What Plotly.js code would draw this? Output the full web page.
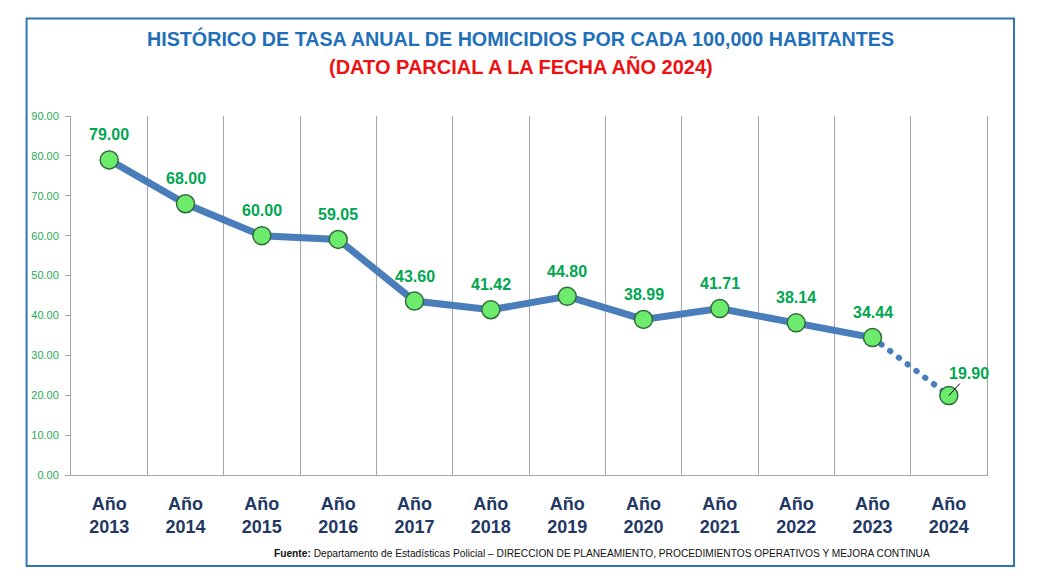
<!DOCTYPE html>
<html>
<head>
<meta charset="utf-8">
<script src="https://cdn.plot.ly/plotly-3.0.1.min.js"></script>
<style>html,body{margin:0;padding:0;background:#fff;}#chart{width:1038px;height:571px;}</style>
</head>
<body>
<div id="chart"></div>
<script>
const years = ["2013","2014","2015","2016","2017","2018","2019","2020","2021","2022","2023","2024"];
const values = [79.00, 68.00, 60.00, 59.05, 43.60, 41.42, 44.80, 38.99, 41.71, 38.14, 34.44, 19.90];
const valueLabels = ["79.00","68.00","60.00","59.05","43.60","41.42","44.80","38.99","41.71","38.14","34.44","19.90"];
const yTicks = [0,10,20,30,40,50,60,70,80,90];
const yTickLabels = ["0.00","10.00","20.00","30.00","40.00","50.00","60.00","70.00","80.00","90.00"];
const titleLine1 = "HISTÓRICO DE TASA ANUAL DE HOMICIDIOS POR CADA 100,000 HABITANTES";
const titleLine2 = "(DATO PARCIAL A LA FECHA AÑO 2024)";
const sourceText = "<b>Fuente:</b> Departamento de Estadísticas Policial – DIRECCION DE PLANEAMIENTO, PROCEDIMIENTOS OPERATIVOS Y MEJORA CONTINUA";

const cats = years.map(y => "Año<br>" + y);
const nFull = years.length - 1; // 2013..2023 are complete years

const lineColor = "#4A7EBB";
const green = "#00A651";

const traces = [
  { x: cats.slice(0, nFull), y: values.slice(0, nFull), type: "scatter", mode: "lines",
    line: { color: lineColor, width: 7 }, hoverinfo: "skip", showlegend: false },
  { x: cats.slice(nFull - 1), y: values.slice(nFull - 1), type: "scatter", mode: "lines",
    line: { color: lineColor, width: 6, dash: "0.5px,10.5px" }, hoverinfo: "skip", showlegend: false },
  { x: cats, y: values, type: "scatter", mode: "markers",
    marker: { size: 18, color: "#6CEB6C", line: { color: "#2F6B3C", width: 1.5 } },
    showlegend: false }
];

const font = "Liberation Sans, Arial, sans-serif";
const annotations = values.map((v, i) => {
  const last = i === values.length - 1;
  const a = { x: cats[i], y: v, xref: "x", yref: "y", text: "<b>" + valueLabels[i] + "</b>",
    font: { family: font, size: 16, color: green } };
  if (last) {
    Object.assign(a, { showarrow: true, arrowhead: 0, arrowwidth: 1, arrowcolor: "#000",
      ax: 20, ay: -22, standoff: 0, startstandoff: 0 });
  } else {
    Object.assign(a, { showarrow: false, yshift: 25 });
  }
  return a;
});

annotations.push(
  { xref: "paper", yref: "paper", x: 0.4907, y: 1.217, xanchor: "center", yanchor: "middle", showarrow: false,
    text: "<b>" + titleLine1 + "</b>", font: { family: font, size: 19.7, color: "#1F70B8" } },
  { xref: "paper", yref: "paper", x: 0.4917, y: 1.1365, xanchor: "center", yanchor: "middle", showarrow: false,
    text: "<b>" + titleLine2 + "</b>", font: { family: font, size: 20, color: "#EE1111" } },
  { xref: "paper", yref: "paper", x: 0.5797, y: -0.22, xanchor: "center", yanchor: "middle", showarrow: false,
    text: sourceText, font: { family: font, size: 10.2, color: "#111" } }
);

const layout = {
  width: 1038, height: 571,
  margin: { l: 71, r: 51, t: 116, b: 96 },
  paper_bgcolor: "#fff", plot_bgcolor: "#fff",
  font: { family: font },
  xaxis: {
    type: "category", range: [-0.5, 11.5], tickson: "boundaries",
    showgrid: true, gridcolor: "#A6A6A6", gridwidth: 1,
    showline: true, linecolor: "#A6A6A6", linewidth: 1,
    ticks: "", fixedrange: true,
    tickfont: { family: font, size: 18, color: "#1F3864", weight: "bold" },
    ticklabelstandoff: 12
  },
  yaxis: {
    range: [0, 90], tickvals: yTicks, ticktext: yTickLabels,
    showgrid: false, zeroline: false,
    showline: true, mirror: true, linecolor: "#A6A6A6", linewidth: 1,
    ticks: "outside", ticklen: 5, tickcolor: "#A6A6A6",
    tickfont: { family: font, size: 11, color: "#1FAA55" }, fixedrange: true,
    ticklabelstandoff: 4
  },
  shapes: [
    { type: "rect", xref: "paper", yref: "paper", x0: -0.0485, x1: 1.0295, y0: -0.2535, y1: 1.2715,
      line: { color: "#2E75B6", width: 2 }, fillcolor: "rgba(0,0,0,0)", layer: "below" }
  ],
  annotations: annotations
};

Plotly.newPlot("chart", traces, layout, { displayModeBar: false, staticPlot: true }).then(() => {
  document.querySelectorAll("#chart .scatterlayer .trace").forEach((t, i) => {
    if (i === 1) t.querySelectorAll("path.js-line").forEach(p => p.style.strokeLinecap = "round");
  });
});
</script>
</body>
</html>
